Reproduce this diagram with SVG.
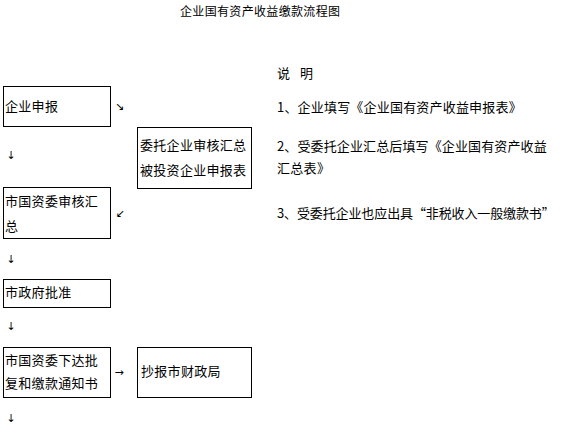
<svg xmlns="http://www.w3.org/2000/svg" width="561" height="435" viewBox="0 0 561 435">
<style>
.t{font-family:"Noto Sans CJK SC","Liberation Sans",sans-serif;font-size:13px;fill:#000;letter-spacing:0.3px}
.title{font-family:"Noto Sans CJK SC","Liberation Sans",sans-serif;font-size:12px;fill:#000}
.n{fill:#fff;stroke:#000;stroke-width:1}
.a{font-family:"DejaVu Sans",sans-serif;font-size:11px;fill:#000;text-anchor:middle}
</style>
<rect width="561" height="435" fill="#fff"/>
<text class="title" x="180" y="15.5" textLength="160" lengthAdjust="spacing">企业国有资产收益缴款流程图</text>
<g id="n1"><rect class="n" x="3.5" y="86.5" width="107" height="40"/><text class="t" x="5" y="111">企业申报</text></g>
<g id="n2"><rect class="n" x="137.5" y="127.5" width="114" height="61"/><text class="t" x="140" y="149.5">委托企业审核汇总</text><text class="t" x="140" y="175">被投资企业申报表</text></g>
<g id="n3"><rect class="n" x="3.5" y="187.5" width="107" height="51"/><text class="t" x="5" y="206">市国资委审核汇</text><text class="t" x="5" y="231">总</text></g>
<g id="n4"><rect class="n" x="3.5" y="279.5" width="107" height="28"/><text class="t" x="5" y="297">市政府批准</text></g>
<g id="n5"><rect class="n" x="3.5" y="347.5" width="107" height="50"/><text class="t" x="5" y="364.5">市国资委下达批</text><text class="t" x="5" y="388">复和缴款通知书</text></g>
<g id="n6"><rect class="n" x="137.5" y="347.5" width="114" height="50"/><text class="t" x="141" y="376">抄报市财政局</text></g>
<g id="connectors">
<text class="a" x="119.5" y="109.5">↘</text>
<text class="a" x="11" y="159">↓</text>
<text class="a" x="120" y="216.5">↙</text>
<text class="a" x="11" y="263">↓</text>
<text class="a" x="11" y="330">↓</text>
<text class="a" x="119" y="376">→</text>
<text class="a" x="11" y="422">↓</text>
</g>
<g id="notes">
<text class="t" x="277" y="78">说</text>
<text class="t" x="300" y="78">明</text>
<text class="t" x="277" y="112" textLength="245" lengthAdjust="spacing">1、企业填写《企业国有资产收益申报表》</text>
<text class="t" x="277" y="150.5" textLength="270" lengthAdjust="spacing">2、受委托企业汇总后填写《企业国有资产收益</text>
<text class="t" x="277" y="173">汇总表》</text>
<text class="t" x="277" y="218" textLength="278" lengthAdjust="spacing">3、受委托企业也应出具“非税收入一般缴款书”</text>
</g>
</svg>
